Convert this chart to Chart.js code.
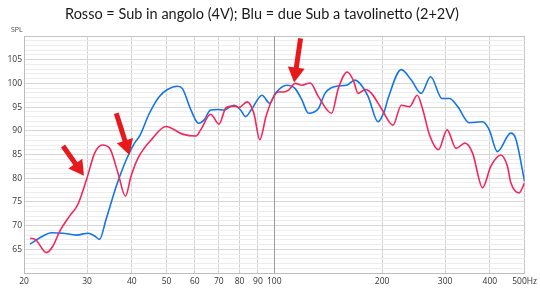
<!DOCTYPE html>
<html><head><meta charset="utf-8">
<script src="https://cdn.jsdelivr.net/npm/chart.js@4/dist/chart.umd.min.js"></script>
<style>html,body{margin:0;padding:0;background:#fff}canvas{display:block}</style>
</head><body>
<canvas id="c" width="540" height="288"></canvas>
<script>
const titleText = 'Rosso = Sub in angolo (4V); Blu = due Sub a tavolinetto (2+2V)';
const yAxisLabel = 'SPL';
const xTickValues = [20,30,40,50,60,70,80,90,100,200,300,400,500];
const xTickLabels = ['20','30','40','50','60','70','80','90','100','200','300','400','500Hz'];
const yLabelValues = [65,70,75,80,85,90,95,100,105];

const redName = 'Sub in angolo (4V)';
const redFreq = [20.8,21.5,23.1,24.1,25.2,26.8,28.3,29.9,31.5,33.1,34.7,36.6,38.4,39.8,41.6,45.7,49.8,55.4,60.4,62.3,66.4,70.1,73.4,78.0,79.6,84.0,87.7,91.1,94.8,98.5,102.4,106.2,109.6,114.4,119.4,126.0,132.8,144.6,150.9,159.9,166.1,171.5,179.7,186.8,199.1,214.6,226.3,238.8,250.7,260.0,271.4,287.4,303.8,321.7,340.8,357.9,381.6,402.4,429.0,447.8,457.5,482.6,500];
const redSPL = [67.3,67.1,64.3,65.7,68.9,72.0,74.5,79.7,85.3,87.0,86.3,81.1,76.2,80.4,84.2,88.4,90.9,89.3,88.9,90.2,93.5,91.4,94.9,95.2,94.9,96.1,93.7,88.1,93.0,96.5,98.2,98.2,98.6,100.0,99.6,100.1,97.2,93.7,98.9,102.4,100.7,97.9,98.7,97.9,94.7,91.2,95.4,95.1,97.5,94.4,89.1,86.0,90.2,86.3,87.4,85.3,78.0,82.5,84.9,82.5,79.1,76.9,79.0];

const blueName = 'due Sub a tavolinetto (2+2V)';
const blueFreq = [20.8,22.2,23.9,25.7,28.0,30.2,31.5,32.5,33.9,36.2,38.6,40.7,42.0,44.8,47.7,50.3,53.7,55.4,58.5,61.4,63.7,66.4,69.3,72.3,77.1,80.5,83.1,86.7,92.4,97.1,100.7,108.5,114.4,119.4,124.6,132.8,138.6,149.3,159.2,168.0,173.4,182.9,194.9,203.5,207.8,226.3,241.3,257.2,273.2,294.2,308.4,325.2,350.4,381.6,398.4,419.8,457.5,472.2,500];
const blueSPL = [66.1,67.5,68.5,68.4,68.0,68.4,67.8,67.1,71.3,78.3,83.9,87.4,88.8,93.7,97.2,98.7,99.4,98.9,94.4,91.6,92.3,94.4,94.5,94.4,95.4,94.4,93.0,94.7,97.5,95.8,97.9,99.6,98.9,96.5,93.7,94.7,97.9,99.4,99.6,100.7,100.0,97.2,91.9,94.4,96.8,102.9,100.7,97.9,101.4,96.8,96.8,95.1,91.7,91.9,90.2,85.6,89.5,88.4,79.3];

// annotation arrows (data coordinates)
const arrowFromHz = [25.7, 36.2, 118.4];
const arrowFromSPL = [86.8, 93.7, 109.5];
const arrowToHz = [29.4, 39.4, 113.6];
const arrowToSPL = [80.5, 84.9, 100.2];

const toPts = (xs, ys) => xs.map((x, i) => ({x: x, y: ys[i]}));

const decorPlugin = {
  id: 'decor',
  beforeDraw(chart) {
    const ctx = chart.ctx;
    ctx.save();
    ctx.fillStyle = '#fff';
    ctx.fillRect(0, 0, chart.width, chart.height);
    ctx.restore();
  },
  beforeDatasetsDraw(chart) {
    // keep the 100 Hz reference gridline solid on top of horizontal gridlines
    const ctx = chart.ctx, xs = chart.scales.x, a = chart.chartArea;
    const px = Math.round(xs.getPixelForValue(100)) + 0.5;
    ctx.save();
    ctx.strokeStyle = '#9c9c9c';
    ctx.lineWidth = 1;
    ctx.beginPath();
    ctx.moveTo(px, a.top);
    ctx.lineTo(px, a.bottom);
    ctx.stroke();
    ctx.restore();
  },
  afterDraw(chart) {
    const ctx = chart.ctx;
    const xs = chart.scales.x, ys = chart.scales.y;
    ctx.save();
    // title
    ctx.fillStyle = '#1a1a1a';
    let fs = 16.5;
    ctx.font = fs + 'px Lato';
    const w = ctx.measureText(titleText).width;
    if (w > 394) { fs = fs * 394 / w; ctx.font = fs + 'px Lato'; }
    ctx.textAlign = 'center';
    ctx.textBaseline = 'middle';
    ctx.fillText(titleText, 262, 14);
    // axis label
    ctx.fillStyle = '#444';
    ctx.font = '7px "Open Sans"';
    ctx.textAlign = 'left';
    ctx.fillText(yAxisLabel, 11, 30);
    // arrows
    ctx.fillStyle = '#e8191c';
    ctx.strokeStyle = '#e8191c';
    for (let i = 0; i < arrowFromHz.length; i++) {
      const x0 = xs.getPixelForValue(arrowFromHz[i]), y0 = ys.getPixelForValue(arrowFromSPL[i]);
      const x1 = xs.getPixelForValue(arrowToHz[i]), y1 = ys.getPixelForValue(arrowToSPL[i]);
      const dx = x1 - x0, dy = y1 - y0, len = Math.hypot(dx, dy);
      const ux = dx / len, uy = dy / len, nx = -uy, ny = ux;
      const hl = 15, hw = 8.5;
      const bx = x1 - ux * hl, by = y1 - uy * hl;
      ctx.lineWidth = 5;
      ctx.lineCap = 'butt';
      ctx.beginPath();
      ctx.moveTo(x0, y0);
      ctx.lineTo(bx + ux * 2, by + uy * 2);
      ctx.stroke();
      ctx.beginPath();
      ctx.moveTo(x1, y1);
      ctx.lineTo(bx + nx * hw, by + ny * hw);
      ctx.lineTo(bx - nx * hw, by - ny * hw);
      ctx.closePath();
      ctx.fill();
    }
    ctx.restore();
  }
};

new Chart(document.getElementById('c'), {
  type: 'line',
  data: {
    datasets: [
      {label: redName, data: toPts(redFreq, redSPL), borderColor: '#f2275c', borderWidth: 1.6, pointRadius: 0, cubicInterpolationMode: 'monotone', fill: false},
      {label: blueName, data: toPts(blueFreq, blueSPL), borderColor: '#1476e2', borderWidth: 1.6, pointRadius: 0, cubicInterpolationMode: 'monotone', fill: false}
    ]
  },
  options: {
    responsive: false,
    animation: false,
    devicePixelRatio: 1,
    layout: {padding: {top: 36, right: 13, left: 0, bottom: 0}},
    plugins: {legend: {display: false}, title: {display: false}, tooltip: {enabled: false}},
    scales: {
      x: {
        type: 'logarithmic', min: 20, max: 500,
        afterBuildTicks(s) { s.ticks = xTickValues.map(v => ({value: v})); },
        afterFit(s) { s.height = 15; },
        ticks: {
          autoSkip: false, maxRotation: 0, padding: 3,
          color: '#333', font: {family: '"Open Sans"', size: 8.5},
          callback(v) { const i = xTickValues.indexOf(v); return i >= 0 ? xTickLabels[i] : ''; }
        },
        grid: {
          drawTicks: false,
          color(c) { const v = c.tick && c.tick.value; if (v === 100) return '#9c9c9c'; if (v === 500) return '#c4c4c4'; return '#d3d3d3'; },
          lineWidth: 1
        },
        border: {color: '#bcbcbc', width: 1}
      },
      y: {
        min: 60, max: 110,
        afterFit(s) { s.width = 24; },
        ticks: {
          stepSize: 1, autoSkip: false, padding: 2,
          color: '#333', font: {family: '"Open Sans"', size: 8.5},
          callback(v) { return yLabelValues.includes(v) ? String(v) : ''; }
        },
        grid: {
          drawTicks: false,
          color(c) { const v = c.tick && c.tick.value; if (v === 110) return '#c4c4c4'; return v % 5 === 0 ? '#d6d6d6' : '#ededed'; },
          lineWidth: 1
        },
        border: {color: '#bcbcbc', width: 1}
      }
    }
  },
  plugins: [decorPlugin]
});
</script>
</body></html>
